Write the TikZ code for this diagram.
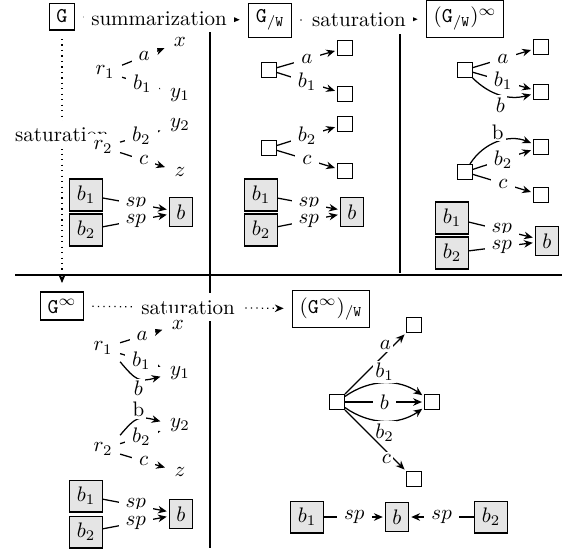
\documentclass[tikz,border=0pt]{standalone}
\usepackage{amsmath}
\usetikzlibrary{arrows.meta}
\begin{document}
\begin{tikzpicture}[x=0.476pt,y=-0.476pt,>={Stealth[length=4.2pt,width=3.6pt]},shorten >=1pt,semithick]
\tikzstyle{every node}=[fill=white]
\tikzstyle{graph}=[draw]
\tikzstyle{res}=[draw,minimum size=7pt,inner sep=0pt]
\tikzstyle{bag}=[draw,fill=gray!20]
\tikzstyle{tight}=[inner sep=1pt]
\tikzstyle{sat}=[dotted,->,shorten <=4pt,shorten >=4pt]
\useasboundingbox (0,0) rectangle (564,550);

% frames
\draw[line width=1pt] (15,275) -- (564,275);
\draw[line width=1pt] (210,32) -- (210,550);
\draw[line width=1pt] (400,32) -- (400,275);

% the four graphs
\node[graph,anchor=base](G) at (62,23) {$\mathtt{G}$};
\node[graph,anchor=base](GW) at (270,23) {$\mathtt{G}_{/\mathtt{W}}$};
\node[graph,anchor=base](GWs) at (465,23) {$(\mathtt{G}_{/\mathtt{W}})^{\infty}$};
\node[graph,anchor=base](Gs) at (62,313) {$\mathtt{G}^{\infty}$};
\node[graph,anchor=base](GsW) at (331,313) {$(\mathtt{G}^{\infty})_{/\mathtt{W}}$};

\draw[sat] (G) -- node[pos=.485]{summarization} (GW);
\draw[sat] (GW) -- node{saturation} (GWs);
\draw[sat] (G) -- node[pos=.4]{saturation} (Gs);
\draw[sat] (Gs) -- node{saturation} (GsW);

% G
\node(r1) at (105,72) {$r_1$};
\node(x) at (180,42) {$x$};
\node(y1) at (180,95) {$y_1$};
\node(r2) at (103,147) {$r_2$};
\node(y2) at (180,125) {$y_2$};
\node(z) at (180,172) {$z$};
\node[bag](b1) at (86,195) {$b_1$};
\node[bag](b2) at (86,230) {$b_2$};
\node[bag](b) at (181,212) {$b$};
\draw[->] (r1) -- node{$a$} (x);
\draw[->] (r1) -- node{$b_1$} (y1);
\draw[->] (r2) -- node{$b_2$} (y2);
\draw[->] (r2) -- node{$c$} (z);
\draw[->] (b1) -- node{$sp$} (b);
\draw[->] (b2) -- node{$sp$} (b);

% G/W
\node[res](Wr1) at (269,70) {};
\node[res](Wx) at (345,48) {};
\node[res](Wy1) at (345,94) {};
\node[res](Wr2) at (269,148) {};
\node[res](Wy2) at (345,124) {};
\node[res](Wz) at (345,171) {};
\node[bag](Wb1) at (261,195) {$b_1$};
\node[bag](Wb2) at (261,230) {$b_2$};
\node[bag](Wb) at (352,212) {$b$};
\draw[->] (Wr1) -- node{$a$} (Wx);
\draw[->] (Wr1) -- node{$b_1$} (Wy1);
\draw[->] (Wr2) -- node{$b_2$} (Wy2);
\draw[->] (Wr2) -- node{$c$} (Wz);
\draw[->] (Wb1) -- node{$sp$} (Wb);
\draw[->] (Wb2) -- node{$sp$} (Wb);

% (G/W)^oo
\node[res](Sr1) at (465,70) {};
\node[res](Sx) at (541,47) {};
\node[res](Sy1) at (541,92) {};
\node[res](Sr2) at (465,172) {};
\node[res](Sy2) at (541,147) {};
\node[res](Sz) at (541,195) {};
\node[bag](Sb1) at (452,218) {$b_1$};
\node[bag](Sb2) at (452,253) {$b_2$};
\node[bag](Sb) at (547,241) {$b$};
\draw[->] (Sr1) -- node{$a$} (Sx);
\draw[->] (Sr1) -- node{$b_1$} (Sy1);
\draw[->] (Sr2) -- node{$b_2$} (Sy2);
\draw[->] (Sr2) -- node{$c$} (Sz);
\draw[->] (Sr1) to[bend right=30] node[below,tight]{$b$} (Sy1);
\draw[->] (Sr2) to[bend left=40] node[above,tight]{b} (Sy2);
\draw[->] (Sb1) -- node{$sp$} (Sb);
\draw[->] (Sb2) -- node{$sp$} (Sb);

% G^oo
\node(Ir1) at (103,348) {$r_1$};
\node(Ix) at (178,325) {$x$};
\node(Iy1) at (180,373) {$y_1$};
\node(Ir2) at (103,449) {$r_2$};
\node(Iy2) at (180,425) {$y_2$};
\node(Iz) at (180,472) {$z$};
\node[bag](Ib1) at (86,496) {$b_1$};
\node[bag](Ib2) at (86,532) {$b_2$};
\node[bag](Ib) at (181,514) {$b$};
\draw[->] (Ir1) -- node{$a$} (Ix);
\draw[->] (Ir1) -- node{$b_1$} (Iy1);
\draw[->] (Ir2) -- node{$b_2$} (Iy2);
\draw[->] (Ir2) -- node{$c$} (Iz);
\draw[->] (Ir1.south east) to[out=-50,in=195,looseness=1.4] node[below,tight]{$b$} (Iy1.190);
\draw[->] (Ir2.north east) to[out=50,in=165,looseness=1.4] node[above,tight]{b} (Iy2.170);
\draw[->] (Ib1) -- node{$sp$} (Ib);
\draw[->] (Ib2) -- node{$sp$} (Ib);

% (G^oo)/W
\node[res](Ur) at (337,402) {};
\node[res](Ux) at (414,325) {};
\node[res](Uy) at (432,402) {};
\node[res](Uz) at (414,479) {};
\node[bag](Ub1) at (307,517) {$b_1$};
\node[bag](Ub) at (397,517) {$b$};
\node[bag](Ub2) at (491,517) {$b_2$};
\draw[->] (Ur) -- node[pos=.8,left,tight]{$a$} (Ux);
\draw[->] (Ur) to[bend left=35] node[above,tight]{$b_1$} (Uy);
\draw[->] (Ur) -- node{$b$} (Uy);
\draw[->] (Ur) to[bend right=35] node[below,tight]{$b_2$} (Uy);
\draw[->] (Ur) -- node[pos=.8,left,tight]{$c$} (Uz);
\draw[->] (Ub1) -- node{$sp$} (Ub);
\draw[->] (Ub2) -- node{$sp$} (Ub);
\end{tikzpicture}
\end{document}
